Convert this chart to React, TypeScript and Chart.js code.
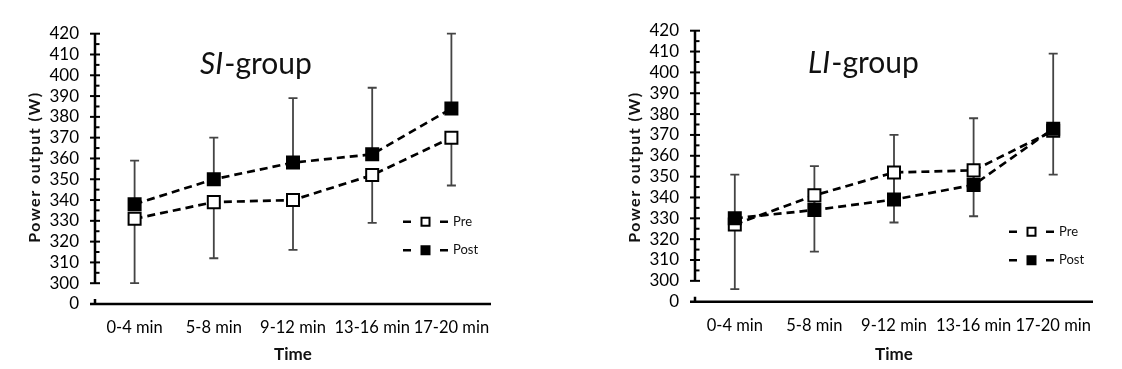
import React, { useEffect, useRef } from 'react';
import { Chart, registerables } from 'chart.js';

Chart.register(...registerables);

const categories = ['0-4 min', '5-8 min', '9-12 min', '13-16 min', '17-20 min'];
const yTickValues = [290, 300, 310, 320, 330, 340, 350, 360, 370, 380, 390, 400, 410, 420];
const yTickLabels = ['0', '300', '310', '320', '330', '340', '350', '360', '370', '380', '390', '400', '410', '420'];

const siPre = [331, 339, 340, 352, 370];
const siPost = [338, 350, 358, 362, 384];
const siPreLow = [300, 312, 316, 329, 347];
const siPostHigh = [359, 370, 389, 394, 420];

const liPre = [327, 341, 352, 353, 372];
const liPost = [330, 334, 339, 346, 373];
const liPreLow = [296, 314, 328, 331, 351];
const liPostHigh = [351, 355, 370, 378, 409];

const FONT = 'Lato, "Open Sans", sans-serif';

type PanelCfg = {
  titleItalic: string;
  pre: number[];
  post: number[];
  preLow: number[];
  postHigh: number[];
  left: number;
  right: number;
  top: number;
  bottom: number;
  titleX: number;
  titleY: number;
  yTitleX: number;
  legendX: number;
  legendY: number;
};

const W = 561;
const H = 369;

function makeDecor(cfg: PanelCfg) {
  return {
    id: 'decor',
    beforeDatasetsDraw(chart: any) {
      const ctx = chart.ctx;
      const xs = chart.scales.x;
      const ys = chart.scales.y;
      ctx.save();
      ctx.strokeStyle = '#444';
      ctx.lineWidth = 1.8;
      const cap = 4.5;
      const seg = (x: number, v0: number, v1: number) => {
        const y0 = ys.getPixelForValue(v0);
        const y1 = ys.getPixelForValue(v1);
        ctx.beginPath();
        ctx.moveTo(x, y0);
        ctx.lineTo(x, y1);
        ctx.moveTo(x - cap, y1);
        ctx.lineTo(x + cap, y1);
        ctx.stroke();
      };
      for (let i = 0; i < categories.length; i++) {
        const x = xs.getPixelForValue(i);
        seg(x, cfg.pre[i], cfg.preLow[i]);
        seg(x, cfg.post[i], cfg.postHigh[i]);
      }
      ctx.restore();
    },
    afterDraw(chart: any) {
      const ctx = chart.ctx;
      const xs = chart.scales.x;
      const ys = chart.scales.y;
      const ca = chart.chartArea;
      ctx.save();
      ctx.strokeStyle = '#000';
      ctx.lineWidth = 2.5;
      const ax = ca.left;
      // y axis line (broken)
      ctx.beginPath();
      ctx.moveTo(ax, ys.getPixelForValue(420));
      ctx.lineTo(ax, ys.getPixelForValue(300));
      ctx.stroke();
      // x axis line
      const by = ys.getPixelForValue(290);
      ctx.beginPath();
      ctx.moveTo(ax - 5, by);
      ctx.lineTo(ca.right, by);
      ctx.moveTo(ax, by);
      ctx.lineTo(ax, by - 5);
      ctx.stroke();
      // ticks
      ctx.lineWidth = 2;
      for (let v = 300; v <= 420; v += 5) {
        const y = ys.getPixelForValue(v);
        ctx.beginPath();
        if (v % 10 === 0) {
          ctx.moveTo(ax - 5, y);
          ctx.lineTo(ax + 5, y);
        } else {
          ctx.moveTo(ax, y);
          ctx.lineTo(ax + 4.5, y);
        }
        ctx.stroke();
      }
      // title
      ctx.fillStyle = '#111';
      ctx.textBaseline = 'alphabetic';
      ctx.textAlign = 'left';
      ctx.font = `italic 30px ${FONT}`;
      ctx.fillText(cfg.titleItalic, cfg.titleX, cfg.titleY);
      const w1 = ctx.measureText(cfg.titleItalic).width;
      ctx.font = `30px ${FONT}`;
      ctx.fillText('-group', cfg.titleX + w1 + 1, cfg.titleY);
      // y axis title
      ctx.save();
      ctx.translate(cfg.yTitleX, 167);
      ctx.rotate(-Math.PI / 2);
      ctx.textAlign = 'center';
      ctx.textBaseline = 'middle';
      ctx.font = `bold 16px ${FONT}`;
      (ctx as any).letterSpacing = '1.5px';
      ctx.fillText('Power output (W)', 0, 0);
      (ctx as any).letterSpacing = '0px';
      ctx.restore();
      // x axis title
      ctx.textAlign = 'center';
      ctx.textBaseline = 'middle';
      ctx.font = `bold 17px ${FONT}`;
      ctx.fillText('Time', xs.getPixelForValue(2), 355);
      // legend
      const items = [
        { label: 'Pre', fill: '#fff' },
        { label: 'Post', fill: '#000' },
      ];
      items.forEach((it, k) => {
        const y = cfg.legendY + k * 28.5;
        const x0 = cfg.legendX;
        ctx.strokeStyle = '#000';
        ctx.lineWidth = 2.5;
        ctx.beginPath();
        ctx.moveTo(x0, y);
        ctx.lineTo(x0 + 8, y);
        ctx.moveTo(x0 + 37, y);
        ctx.lineTo(x0 + 45, y);
        ctx.stroke();
        ctx.fillStyle = it.fill;
        ctx.lineWidth = 2;
        ctx.beginPath();
        ctx.rect(x0 + 18.5, y - 4, 8, 8);
        ctx.fill();
        ctx.stroke();
        ctx.fillStyle = '#111';
        ctx.textAlign = 'left';
        ctx.textBaseline = 'middle';
        ctx.font = `13px ${FONT}`;
        ctx.fillText(it.label, x0 + 50, y);
      });
      ctx.restore();
    },
  };
}

function Panel({ cfg }: { cfg: PanelCfg }) {
  const ref = useRef<HTMLCanvasElement | null>(null);
  useEffect(() => {
    if (!ref.current) return;
    const chart = new Chart(ref.current, {
      type: 'line',
      data: {
        labels: categories,
        datasets: [
          {
            label: 'Pre',
            data: cfg.pre,
            order: 1,
            borderColor: '#000',
            borderWidth: 2.7,
            borderDash: [8, 5],
            pointStyle: 'rect',
            pointRadius: 8.5,
            pointBorderWidth: 2,
            pointBackgroundColor: '#fff',
            pointBorderColor: '#000',
            fill: false,
            tension: 0,
          },
          {
            label: 'Post',
            data: cfg.post,
            order: 0,
            borderColor: '#000',
            borderWidth: 2.7,
            borderDash: [8, 5],
            pointStyle: 'rect',
            pointRadius: 8.5,
            pointBorderWidth: 2,
            pointBackgroundColor: '#000',
            pointBorderColor: '#000',
            fill: false,
            tension: 0,
          },
        ],
      },
      options: {
        responsive: false,
        animation: false,
        layout: {
          padding: { left: 0, right: W - cfg.right, top: cfg.top, bottom: 0 },
        },
        plugins: {
          legend: { display: false },
          tooltip: { enabled: false },
          title: { display: false },
        },
        scales: {
          x: {
            offset: true,
            grid: { display: false, drawTicks: false },
            border: { display: false },
            ticks: {
              padding: 14,
              color: '#000',
              font: { family: FONT, size: 16.5 },
              maxRotation: 0,
              autoSkip: false,
            },
            afterFit: (s: any) => {
              s.height = H - cfg.bottom;
            },
          },
          y: {
            min: 290,
            max: 420,
            grid: { display: false, drawTicks: false },
            border: { display: false },
            afterBuildTicks: (s: any) => {
              s.ticks = yTickValues.map((v) => ({ value: v }));
            },
            ticks: {
              padding: 16,
              color: '#000',
              autoSkip: false,
              font: { family: FONT, size: 17 },
              callback: (v: any) => {
                const idx = yTickValues.indexOf(Number(v));
                return idx >= 0 ? yTickLabels[idx] : '';
              },
            },
            afterFit: (s: any) => {
              s.width = cfg.left;
            },
          },
        },
      },
      plugins: [makeDecor(cfg)],
    } as any);
    return () => chart.destroy();
  }, [cfg]);
  return <canvas ref={ref} width={W} height={H} style={{ width: W, height: H, display: 'block' }} />;
}

const siCfg: PanelCfg = {
  titleItalic: 'SI',
  pre: siPre,
  post: siPost,
  preLow: siPreLow,
  postHigh: siPostHigh,
  left: 95,
  right: 491,
  top: 33.7,
  bottom: 304,
  titleX: 200,
  titleY: 74,
  yTitleX: 35,
  legendX: 403,
  legendY: 221.7,
};

const liCfg: PanelCfg = {
  titleItalic: 'LI',
  pre: liPre,
  post: liPost,
  preLow: liPreLow,
  postHigh: liPostHigh,
  left: 134,
  right: 532,
  top: 30.7,
  bottom: 301.7,
  titleX: 808 - 561,
  titleY: 73,
  yTitleX: 74,
  legendX: 1009 - 561,
  legendY: 231.7,
};

export default function App() {
  return (
    <div
      style={{
        position: 'absolute',
        left: 0,
        top: 0,
        width: 1122,
        height: 369,
        display: 'flex',
        background: '#fff',
      }}
    >
      <Panel cfg={siCfg} />
      <Panel cfg={liCfg} />
    </div>
  );
}
